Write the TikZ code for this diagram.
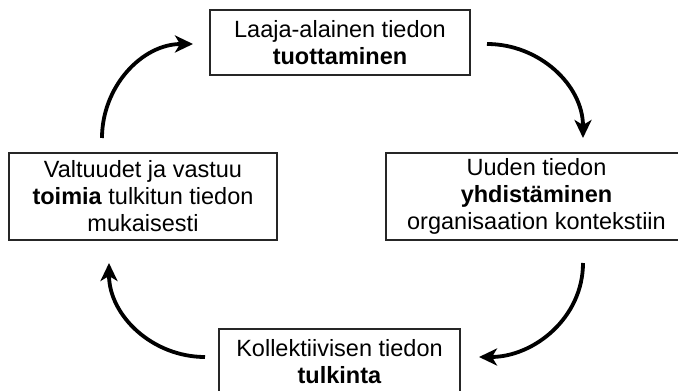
\documentclass[tikz,border=0pt]{standalone}
\usepackage{fontspec}
\setmainfont{Liberation Sans}
\usetikzlibrary{arrows.meta}

\begin{document}
\begin{tikzpicture}[x=1pt,y=1pt,
    box/.style={draw=black!85, line width=1.2pt, align=center, inner sep=0pt,
        font=\fontsize{23.5}{27}\selectfont},
    cyc/.style={-{Stealth[length=18pt,width=17pt,inset=5pt]}, line width=3.8pt}]
    \useasboundingbox (0,0) rectangle (678,391);

    % Boxes of the cycle
    \node[box, minimum width=260pt, minimum height=65pt] (tuotto) at (340,348.5)
        {Laaja-alainen tiedon\\\textbf{tuottaminen}};
    \node[box, minimum width=301pt, minimum height=87pt] (yhdist) at (536.5,194.5)
        {Uuden tiedon\\\textbf{yhdistäminen}\\organisaation kontekstiin};
    \node[box, minimum width=241pt, minimum height=65pt] (tulk) at (339.5,29.5)
        {Kollektiivisen tiedon\\\textbf{tulkinta}};
    \node[box, minimum width=268pt, minimum height=87pt] (valta) at (143,194.5)
        {Valtuudet ja vastuu\\\textbf{toimia} tulkitun tiedon\\mukaisesti};

    % Arrow ends
    \coordinate (a1) at (102,253);
    \coordinate (a2) at (193,347);
    \coordinate (b1) at (487,347);
    \coordinate (b2) at (583,253);
    \coordinate (c1) at (583,128);
    \coordinate (c2) at (479,34);
    \coordinate (d1) at (205,34);
    \coordinate (d2) at (109,128);

    % Cycle arrows
    \draw[cyc] (a1) to[out=90,in=180] (a2);
    \draw[cyc] (b1) to[out=0,in=90] (b2);
    \draw[cyc] (c1) to[out=-90,in=0] (c2);
    \draw[cyc] (d1) to[out=180,in=-90] (d2);
\end{tikzpicture}
\end{document}
